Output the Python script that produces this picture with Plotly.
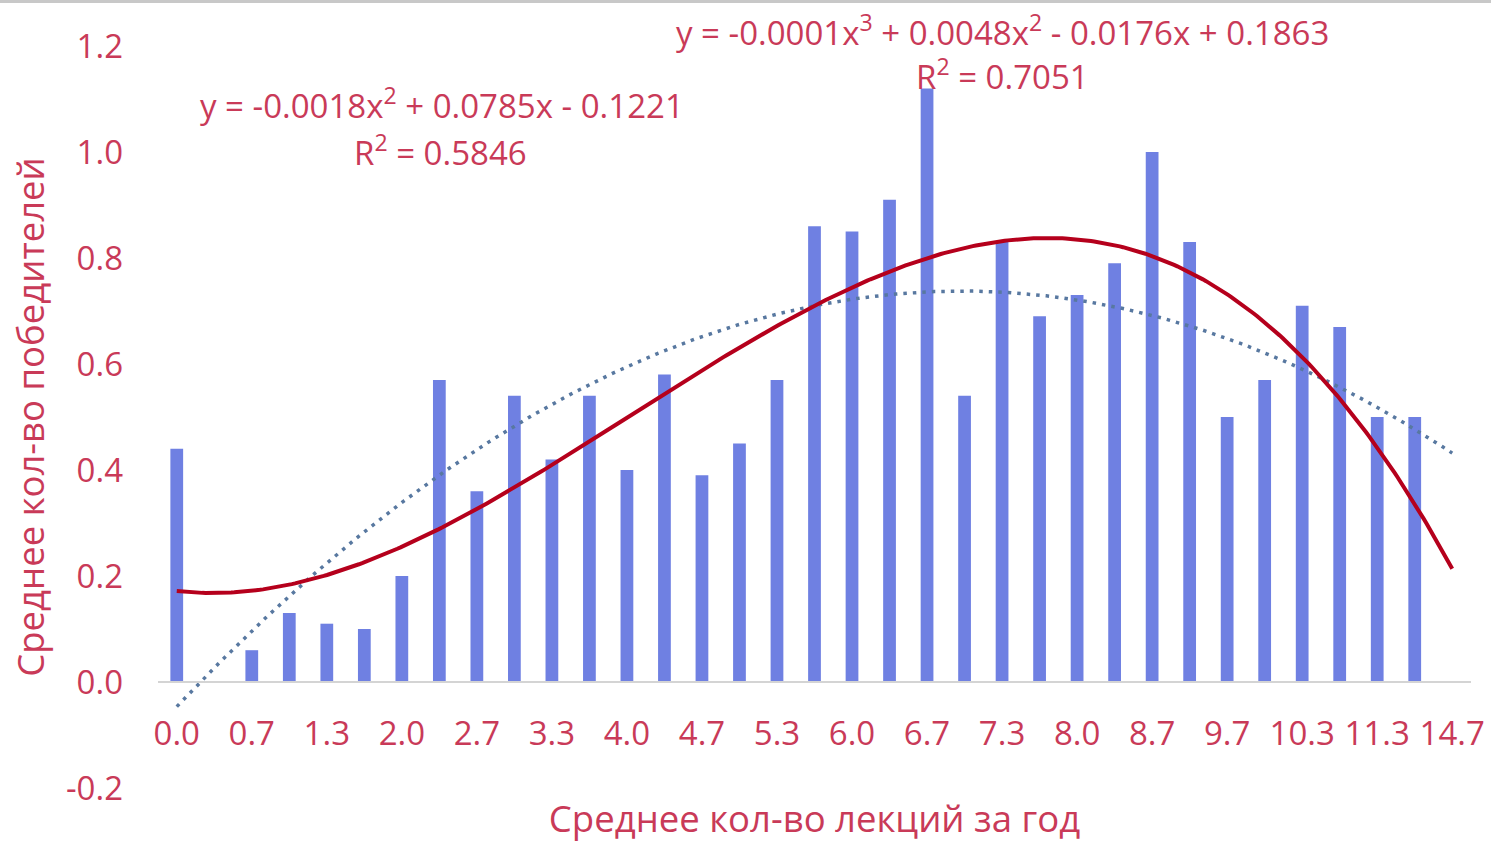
import numpy as np
import plotly.graph_objects as go

categories = ["0.0", "0.3", "0.7", "1.0", "1.3", "1.7", "2.0", "2.3", "2.7", "3.0",
              "3.3", "3.7", "4.0", "4.3", "4.7", "5.0", "5.3", "5.7", "6.0", "6.3",
              "6.7", "7.0", "7.3", "7.7", "8.0", "8.3", "8.7", "9.0", "9.7", "10.0",
              "10.3", "10.7", "11.3", "12.0", "14.7"]
winners = [0.44, 0.00, 0.06, 0.13, 0.11, 0.10, 0.20, 0.57, 0.36, 0.54,
           0.42, 0.54, 0.40, 0.58, 0.39, 0.45, 0.57, 0.86, 0.85, 0.91,
           1.12, 0.54, 0.83, 0.69, 0.73, 0.79, 1.00, 0.83, 0.50, 0.57,
           0.71, 0.67, 0.50, 0.50, 0.00]
y_ticks = [-0.2, 0.0, 0.2, 0.4, 0.6, 0.8, 1.0, 1.2]
y_ticktext = ["-0.2", "0.0", "0.2", "0.4", "0.6", "0.8", "1.0", "1.2"]

eq2_text = "y = -0.0018x<sup>2</sup> + 0.0785x - 0.1221"
r2_2_text = "R<sup>2</sup> = 0.5846"
eq3_text = "y = -0.0001x<sup>3</sup> + 0.0048x<sup>2</sup> - 0.0176x + 0.1863"
r2_3_text = "R<sup>2</sup> = 0.7051"

TXT = "#C93A58"
FONT = "Open Sans"

pos = np.arange(1, len(categories) + 1)
vals = np.array(winners)
xs = np.linspace(1, len(categories), 400)
fit2 = np.polyval(np.polyfit(pos, vals, 2), xs)
fit3 = np.polyval(np.polyfit(pos, vals, 3), xs)

fig = go.Figure()
fig.add_trace(go.Bar(x=pos, y=vals, marker=dict(color="#6F80E2", line=dict(width=0)),
                     showlegend=False))
fig.add_trace(go.Scatter(x=xs, y=fit2, mode="lines",
                         line=dict(color="#5878A0", width=3.5, dash="3.5px,6px"),
                         showlegend=False))
fig.add_trace(go.Scatter(x=xs, y=fit3, mode="lines",
                         line=dict(color="#B5001C", width=4), showlegend=False))

ML, MR, MT, MB = 158, 20, 46, 55
W, H = 1491, 843
px_w = W - ML - MR
px_h = H - MT - MB
zero_pos = 0.2 / 1.4

fig.update_layout(
    width=W, height=H,
    margin=dict(l=ML, r=MR, t=MT, b=MB, autoexpand=False),
    paper_bgcolor="white", plot_bgcolor="white",
    bargap=0.66, hovermode=False,
    font=dict(family=FONT, color=TXT, size=33),
    xaxis=dict(range=[0.5, len(categories) + 0.5], tickvals=pos[::2],
               ticktext=categories[::2], showgrid=False, zeroline=False,
               showline=True, linecolor="#D4D4D4", linewidth=2,
               anchor="free", position=zero_pos, ticks="",
               ticklabelstandoff=22, automargin=False,
               tickfont=dict(size=33, color=TXT),
               title=dict(text="Среднее кол-во лекций за год",
                          font=dict(size=36.5, color=TXT), standoff=56)),
    yaxis=dict(range=[-0.2, 1.2], tickvals=y_ticks, ticktext=y_ticktext,
               showgrid=False, zeroline=False, showline=False, ticks="",
               ticklabelstandoff=34, automargin=False,
               tickfont=dict(size=33, color=TXT),
               title=dict(text="Среднее кол-во победителей",
                          font=dict(size=36.5, color=TXT), standoff=10)),
)


def ann(text, cx, cy):
    fig.add_annotation(text=text, xref="paper", yref="paper",
                       x=(cx - ML) / px_w, y=1 - (cy - MT) / px_h,
                       xanchor="center", yanchor="middle", showarrow=False,
                       font=dict(family=FONT, size=33, color=TXT))


ann(eq2_text, 442, 103)
ann(r2_2_text, 440, 150)
ann(eq3_text, 1002, 30)
ann(r2_3_text, 1002, 75)

fig.add_shape(type="line", xref="paper", yref="paper",
              x0=-ML / px_w, x1=1 + MR / px_w,
              y0=1 + (MT - 1.5) / px_h, y1=1 + (MT - 1.5) / px_h,
              line=dict(color="#C8C8C8", width=3))

fig.write_html("out.html",
               config={"displayModeBar": False, "staticPlot": True},
               post_script="document.body.style.margin='0';"
                           "document.body.style.overflow='hidden';")
